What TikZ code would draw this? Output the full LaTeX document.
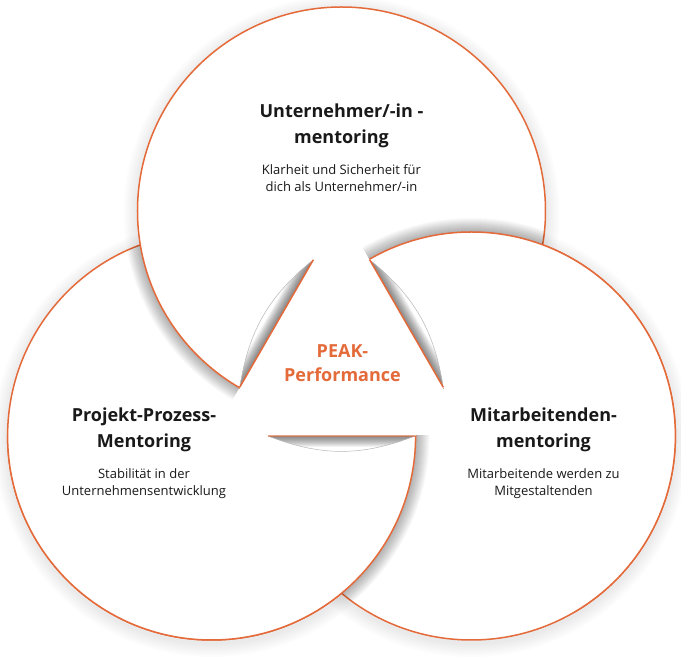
\documentclass[tikz,border=0pt]{standalone}
\usepackage{fontspec}
\setmainfont{Open Sans}
\usepackage{xcolor}
\usepackage{tikz}
\usetikzlibrary{calc}

\definecolor{peak}{RGB}{228,106,58}
\definecolor{ink}{RGB}{25,25,25}

\tikzset{
  disc/.style={fill=white, draw=peak, line width=1.5pt},
  cut/.style={draw=peak, line width=1.5pt},
  fold/.style={draw=black!28, line width=0.5pt},
  title/.style={align=center, font=\bfseries\fontsize{18}{26}\selectfont, text=ink},
  sub/.style={align=center, font=\fontsize{13}{17.5}\selectfont, text=ink},
}

\newcommand{\rad}{204}
% half plane on the right of the cut through #1 at angle #2
\newcommand{\side}[2]{($(#1)+(#2:500)$) -- ($(#1)+(#2+180:500)$) -- ($(#1)+(#2+180:500)+(#2-90:500)$) -- ($(#1)+(#2:500)+(#2-90:500)$) -- cycle}

\begin{document}
\begin{tikzpicture}[x=1pt,y=1pt]
    \useasboundingbox (-341.5,-297) rectangle (339.5,361);

    \coordinate (O) at (0,0);
    \coordinate (T) at (90:150);
    \coordinate (L) at (210:150);
    \coordinate (R) at (330:150);

    \coordinate (Ta) at ($(T)+(240:56.4)$);
    \coordinate (Tb) at ($(T)+(240:203.4)$);
    \coordinate (La) at ($(L)+(0:56.4)$);
    \coordinate (Lb) at ($(L)+(0:203.4)$);
    \coordinate (Ra) at ($(R)+(120:56.4)$);
    \coordinate (Rb) at ($(R)+(120:203.4)$);

    % soft halo
    \foreach \c in {T,L,R}
        \foreach \k in {1,...,7}
            \fill[black, opacity=0.01] ($(\c)+(0,-3)$) circle ({\rad+2*\k});

    \draw[disc] (L) circle (\rad);
    \draw[disc] (R) circle (\rad);

    % T over L
    \begin{scope}
        \clip (L) circle (\rad);
        \clip \side{T}{240};
        \foreach \w in {2,4,...,28}
            \draw[black, opacity=0.022, line width=\w pt] (T) circle (\rad);
    \end{scope}
    \draw[disc] (T) circle (\rad);

    % R over T
    \begin{scope}
        \clip (T) circle (\rad);
        \clip \side{R}{120};
        \foreach \w in {2,4,...,28}
            \draw[black, opacity=0.022, line width=\w pt] (R) circle (\rad);
    \end{scope}
    \begin{scope}
        \clip \side{R}{120};
        \draw[disc] (R) circle (\rad);
    \end{scope}

    % L over R
    \begin{scope}
        \clip (R) circle (\rad);
        \clip \side{L}{0};
        \foreach \w in {2,4,...,28}
            \draw[black, opacity=0.022, line width=\w pt] (L) circle (\rad);
    \end{scope}
    \begin{scope}
        \clip \side{L}{0};
        \draw[disc] (L) circle (\rad);
    \end{scope}

    % centre
    \fill[white] (Ta) to[bend right=21] (Tb) arc[start angle=194.42, end angle=225.58, radius=105]
        to[bend right=21] (Lb) arc[start angle=314.42, end angle=345.58, radius=105]
        to[bend right=21] (Rb) arc[start angle=74.42, end angle=105.58, radius=105] -- cycle;

    \foreach \a/\b/\o in {Ta/Tb/1, La/Lb/0.55, Ra/Rb/1} {
        \begin{scope}
            \clip (\a) to[bend right=21] (\b) -- cycle;
            \foreach \w in {2,4,...,22}
                \draw[black, opacity=0.05, line width=\w pt] (\a) -- (\b);
        \end{scope}
        \draw[fold] (\a) to[bend right=21] (\b);
        \draw[cut, draw opacity=\o] (\a) -- (\b);
    }

    \node[title] (Thead) at (0,235.4) {Unternehmer/-in -\\mentoring};
    \node[sub] (Ttext) at (0,183.1) {Klarheit und Sicherheit für\\dich als Unternehmer/-in};

    \node[title] (Lhead) at (-197.5,-69.3) {Projekt-Prozess-\\Mentoring};
    \node[sub] (Ltext) at (-197.5,-122.4) {Stabilität in der\\Unternehmensentwicklung};

    \node[title] (Rhead) at (202,-69.3) {Mitarbeitenden-\\mentoring};
    \node[sub] (Rtext) at (202,-122.4) {Mitarbeitende werden zu\\Mitgestaltenden};

    \node[title, text=peak, font=\bfseries\fontsize{18}{24.5}\selectfont] (peak) at (1,-2) {PEAK-\\Performance};
\end{tikzpicture}
\end{document}
